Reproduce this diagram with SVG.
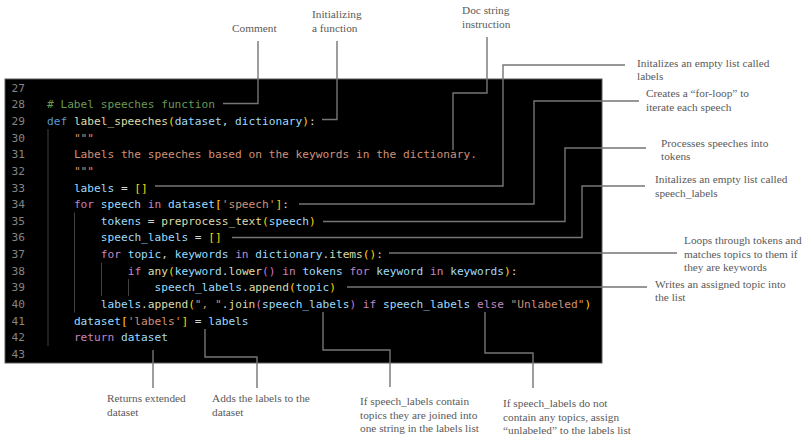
<svg xmlns="http://www.w3.org/2000/svg" width="805" height="436" viewBox="0 0 805 436">
<style>
.code{font-family:"DejaVu Sans Mono","Liberation Mono",monospace;font-size:11.16px;fill:#D4D4D4}
.ln{fill:#858585}
.c{fill:#6A9955}
.k{fill:#569CD6}
.f{fill:#DCDCAA}
.v{fill:#9CDCFE}
.b1{fill:#FFD700}
.b2{fill:#DA70D6}
.s{fill:#CE9178}
.p{fill:#C586C0}
.guide{stroke:#404040;stroke-width:1}
.ann{font-family:"Liberation Serif","Times New Roman",serif;font-size:11.3px;fill:#5a5a5a}
.con{fill:none;stroke:#757575;stroke-width:1.4}
</style>
<rect width="805" height="436" fill="#ffffff"/>
<g id="code-block">
<rect x="5" y="79" width="597" height="284" fill="#000000" stroke="#5a5a5a" stroke-width="1"/>
<g class="guide">
<line x1="48" y1="129" x2="48" y2="346"/>
<line x1="74.5" y1="212.5" x2="74.5" y2="312.5"/>
<line x1="101.5" y1="262.5" x2="101.5" y2="296"/>
<line x1="128.5" y1="279" x2="128.5" y2="296"/>
</g>
<g class="code ln" text-anchor="end">
<text x="25" y="91.5">27</text>
<text x="25" y="108.2">28</text>
<text x="25" y="124.8">29</text>
<text x="25" y="141.5">30</text>
<text x="25" y="158.1">31</text>
<text x="25" y="174.8">32</text>
<text x="25" y="191.5">33</text>
<text x="25" y="208.1">34</text>
<text x="25" y="224.8">35</text>
<text x="25" y="241.4">36</text>
<text x="25" y="258.1">37</text>
<text x="25" y="274.8">38</text>
<text x="25" y="291.4">39</text>
<text x="25" y="308.1">40</text>
<text x="25" y="324.7">41</text>
<text x="25" y="341.4">42</text>
<text x="25" y="358.1">43</text>
</g>
<g class="code">
<text x="47" y="108.2"><tspan class="c"># Label speeches function</tspan></text>
<text x="47" y="124.8"><tspan class="k">def</tspan> <tspan class="f">label_speeches</tspan><tspan class="b1">(</tspan><tspan class="v">dataset</tspan>, <tspan class="v">dictionary</tspan><tspan class="b1">)</tspan>:</text>
<text x="73.9" y="141.5" class="s">"""</text>
<text x="73.9" y="158.1" class="s">Labels the speeches based on the keywords in the dictionary.</text>
<text x="73.9" y="174.8" class="s">"""</text>
<text x="73.9" y="191.5"><tspan class="v">labels</tspan> = <tspan class="b1">[]</tspan></text>
<text x="73.9" y="208.1"><tspan class="p">for</tspan> <tspan class="v">speech</tspan> <tspan class="p">in</tspan> <tspan class="v">dataset</tspan><tspan class="b1">[</tspan><tspan class="s">'speech'</tspan><tspan class="b1">]</tspan>:</text>
<text x="100.8" y="224.8"><tspan class="v">tokens</tspan> = <tspan class="f">preprocess_text</tspan><tspan class="b1">(</tspan><tspan class="v">speech</tspan><tspan class="b1">)</tspan></text>
<text x="100.8" y="241.4"><tspan class="v">speech_labels</tspan> = <tspan class="b1">[]</tspan></text>
<text x="100.8" y="258.1"><tspan class="p">for</tspan> <tspan class="v">topic</tspan>, <tspan class="v">keywords</tspan> <tspan class="p">in</tspan> <tspan class="v">dictionary</tspan>.<tspan class="f">items</tspan><tspan class="b1">()</tspan>:</text>
<text x="127.7" y="274.8"><tspan class="p">if</tspan> <tspan class="f">any</tspan><tspan class="b1">(</tspan><tspan class="v">keyword</tspan>.<tspan class="f">lower</tspan><tspan class="b2">()</tspan> <tspan class="p">in</tspan> <tspan class="v">tokens</tspan> <tspan class="p">for</tspan> <tspan class="v">keyword</tspan> <tspan class="p">in</tspan> <tspan class="v">keywords</tspan><tspan class="b1">)</tspan>:</text>
<text x="154.6" y="291.4"><tspan class="v">speech_labels</tspan>.<tspan class="f">append</tspan><tspan class="b1">(</tspan><tspan class="v">topic</tspan><tspan class="b1">)</tspan></text>
<text x="100.8" y="308.1"><tspan class="v">labels</tspan>.<tspan class="f">append</tspan><tspan class="b1">(</tspan><tspan class="s">", "</tspan>.<tspan class="f">join</tspan><tspan class="b2">(</tspan><tspan class="v">speech_labels</tspan><tspan class="b2">)</tspan> <tspan class="p">if</tspan> <tspan class="v">speech_labels</tspan> <tspan class="p">else</tspan> <tspan class="s">"Unlabeled"</tspan><tspan class="b1">)</tspan></text>
<text x="73.9" y="324.7"><tspan class="v">dataset</tspan><tspan class="b1">[</tspan><tspan class="s">'labels'</tspan><tspan class="b1">]</tspan> = <tspan class="v">labels</tspan></text>
<text x="73.9" y="341.4"><tspan class="p">return</tspan> <tspan class="v">dataset</tspan></text>
</g>
</g>
<g id="connectors" class="con">
<path d="M258,41 V103.5 H223"/>
<path d="M337,41 V119.5 H322"/>
<path d="M487,37 V93 H453 V150"/>
<path d="M625,65 H503 V186 H155"/>
<path d="M639,101 H534 V204 H299"/>
<path d="M646,148 H565 V221.5 H323"/>
<path d="M645,186 H582 V237.5 H232"/>
<path d="M677,253 H389"/>
<path d="M647,287 H347"/>
<path d="M153,350 V388"/>
<path d="M205,329 V357 H257 V388"/>
<path d="M323,312 V350 H390 V387"/>
<path d="M485,312 V353 H533 V388"/>
</g>
<g id="ann-comment" class="ann"><text x="232" y="31.5">Comment</text></g>
<g id="ann-function" class="ann"><text x="312" y="18.3">Initializing</text><text x="312" y="31.5">a function</text></g>
<g id="ann-docstring" class="ann"><text x="462" y="14">Doc string</text><text x="462" y="27.7">instruction</text></g>
<g id="ann-labels" class="ann"><text x="637" y="67">Initalizes an empty list called</text><text x="637" y="80">labels</text></g>
<g id="ann-forloop" class="ann"><text x="646" y="97">Creates a “for-loop” to</text><text x="646" y="110.5">iterate each speech</text></g>
<g id="ann-tokens" class="ann"><text x="661" y="146.5">Processes speeches into</text><text x="661" y="160">tokens</text></g>
<g id="ann-speechlabels" class="ann"><text x="655" y="183">Initalizes an empty list called</text><text x="655" y="196.5">speech_labels</text></g>
<g id="ann-loops" class="ann"><text x="684" y="244">Loops through tokens and</text><text x="684" y="257.5">matches topics to them if</text><text x="684" y="271">they are keywords</text></g>
<g id="ann-writes" class="ann"><text x="655" y="288">Writes an assigned topic into</text><text x="655" y="301">the list</text></g>
<g id="ann-returns" class="ann"><text x="107" y="402">Returns extended</text><text x="107" y="415.5">dataset</text></g>
<g id="ann-adds" class="ann"><text x="212" y="402">Adds the labels to the</text><text x="212" y="415.5">dataset</text></g>
<g id="ann-joined" class="ann"><text x="360" y="405">If speech_labels contain</text><text x="360" y="418.5">topics they are joined into</text><text x="360" y="432">one string in the labels list</text></g>
<g id="ann-unlabeled" class="ann"><text x="503" y="407">If speech_labels do not</text><text x="503" y="420.5">contain any topics, assign</text><text x="503" y="434">“unlabeled” to the labels list</text></g>
</svg>
